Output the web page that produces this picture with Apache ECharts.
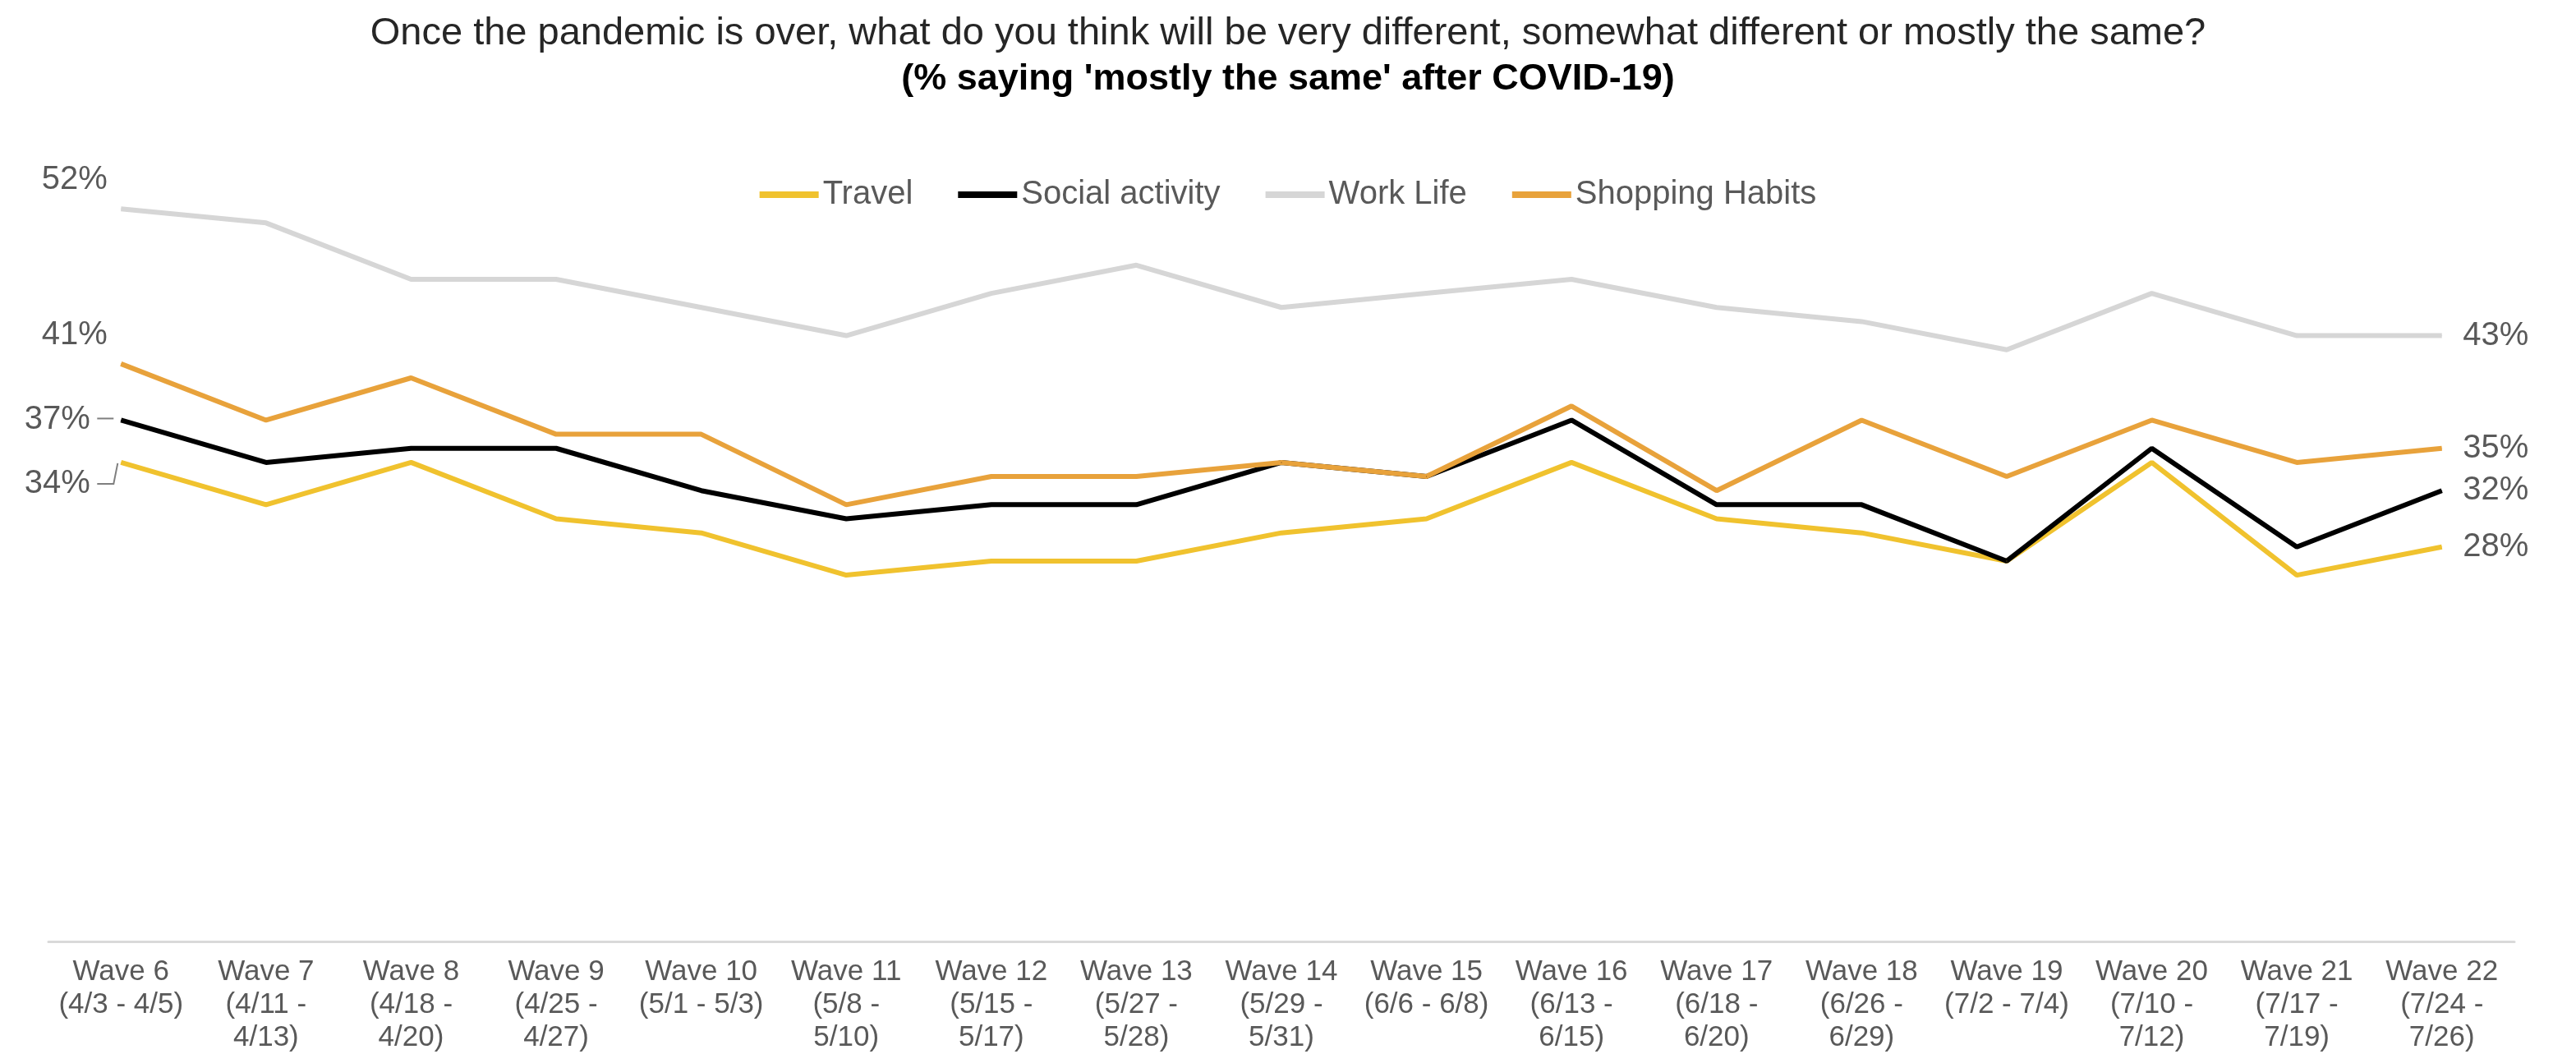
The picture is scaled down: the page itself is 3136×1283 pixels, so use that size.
<!DOCTYPE html>
<html>
<head>
<meta charset="utf-8">
<title>Mostly the same after COVID-19</title>
<script src="https://cdn.jsdelivr.net/npm/echarts@6/dist/echarts.min.js"></script>
<style>
  html, body { margin: 0; padding: 0; background: #ffffff; }
  #chart { width: 3136px; height: 1283px; }
</style>
</head>
<body>
<div id="chart"></div>
<script>
// Survey waves (x-axis tick labels)
const waveLabels = [
  'Wave 6\n(4/3 - 4/5)', 'Wave 7\n(4/11 -\n4/13)', 'Wave 8\n(4/18 -\n4/20)',
  'Wave 9\n(4/25 -\n4/27)', 'Wave 10\n(5/1 - 5/3)', 'Wave 11\n(5/8 -\n5/10)',
  'Wave 12\n(5/15 -\n5/17)', 'Wave 13\n(5/27 -\n5/28)', 'Wave 14\n(5/29 -\n5/31)',
  'Wave 15\n(6/6 - 6/8)', 'Wave 16\n(6/13 -\n6/15)', 'Wave 17\n(6/18 -\n6/20)',
  'Wave 18\n(6/26 -\n6/29)', 'Wave 19\n(7/2 - 7/4)', 'Wave 20\n(7/10 -\n7/12)',
  'Wave 21\n(7/17 -\n7/19)', 'Wave 22\n(7/24 -\n7/26)'
];

// % saying "mostly the same" per wave
const travel   = [34, 31, 34, 30, 29, 26, 27, 27, 29, 30, 34, 30, 29, 27, 34, 26, 28];
const social   = [37, 34, 35, 35, 32, 30, 31, 31, 34, 33, 37, 31, 31, 27, 35, 28, 32];
const workLife = [52, 51, 47, 47, 45, 43, 46, 48, 45, 46, 47, 45, 44, 42, 46, 43, 43];
const shopping = [41, 37, 40, 36, 36, 31, 33, 33, 34, 33, 38, 32, 37, 33, 37, 34, 35];

const FONT = '"Liberation Sans", Arial, Helvetica, sans-serif';
const LABEL_COLOR = '#595959';
const LEADER_COLOR = '#7f7f7f';

// Label for the first point of each line (left side)
function startLabel(offsetY, distance) {
  return {
    label: {
      show: true,
      position: 'left',
      distance: distance,
      offset: [0, offsetY],
      formatter: '{c}%',
      color: LABEL_COLOR,
      fontSize: 40,
      fontFamily: FONT
    }
  };
}

// Label for the last point of each line (right side)
const endLabel = {
  label: {
    show: true,
    position: 'right',
    distance: 25,
    formatter: '{c}%',
    color: LABEL_COLOR,
    fontSize: 40,
    fontFamily: FONT
  }
};

function buildData(values, first) {
  return values.map(function (v, i) {
    if (i === 0) return Object.assign({ value: v }, first);
    if (i === values.length - 1) return Object.assign({ value: v }, endLabel);
    return v;
  });
}

function lineSeries(name, values, color, first) {
  return {
    name: name,
    type: 'line',
    data: buildData(values, first),
    color: color,
    symbol: 'circle',
    symbolSize: 1,
    showSymbol: true,
    showAllSymbol: true,
    lineStyle: { color: color, width: 6 },
    itemStyle: { color: color },
    emphasis: { disabled: true },
    silent: true,
    z: 2
  };
}

const chart = echarts.init(document.getElementById('chart'), null, { renderer: 'canvas' });

chart.setOption({
  animation: false,
  backgroundColor: '#ffffff',
  title: {
    text: 'Once the pandemic is over, what do you think will be very different, somewhat different or mostly the same?',
    subtext: "(% saying 'mostly the same' after COVID-19)",
    left: 'center',
    top: 10,
    itemGap: 4,
    textStyle: { fontFamily: FONT, fontSize: 47, fontWeight: 'normal', color: '#262626', lineHeight: 52 },
    subtextStyle: { fontFamily: FONT, fontSize: 45, fontWeight: 'bold', color: '#000000', lineHeight: 52 }
  },
  legend: {
    top: 212,
    left: 'center',
    icon: 'rect',
    itemWidth: 72,
    itemHeight: 8,
    itemGap: 55,
    textStyle: { fontFamily: FONT, fontSize: 40, color: LABEL_COLOR },
    data: ['Travel', 'Social activity', 'Work Life', 'Shopping Habits']
  },
  grid: { left: 59, right: 75, top: 117, bottom: 132, containLabel: false },
  xAxis: {
    type: 'category',
    data: waveLabels,
    boundaryGap: true,
    axisLine: { show: true, lineStyle: { color: '#d9d9d9', width: 3 } },
    axisTick: { show: false },
    splitLine: { show: false },
    axisLabel: {
      interval: 0,
      margin: 17,
      color: LABEL_COLOR,
      fontFamily: FONT,
      fontSize: 35,
      lineHeight: 40,
      align: 'center'
    }
  },
  yAxis: {
    type: 'value',
    min: 0,
    max: 60,
    interval: 10,
    show: false,
    splitLine: { show: false }
  },
  series: [
    lineSeries('Travel', travel, '#F0C22E', startLabel(26, 37)),
    lineSeries('Social activity', social, '#000000', startLabel(0, 37)),
    lineSeries('Work Life', workLife, '#D6D6D6', startLabel(-35, 16)),
    lineSeries('Shopping Habits', shopping, '#E8A23B', startLabel(-35, 16))
  ]
});

// Leader lines tying the two lower start labels to their first points
const pSocial = chart.convertToPixel({ seriesIndex: 1 }, [0, social[0]]);
const pTravel = chart.convertToPixel({ seriesIndex: 0 }, [0, travel[0]]);
const leaderStyle = { stroke: LEADER_COLOR, lineWidth: 2, fill: null };
chart.setOption({
  graphic: [
    {
      type: 'polyline',
      silent: true,
      shape: { points: [[pSocial[0] - 29, pSocial[1] - 2], [pSocial[0] - 9, pSocial[1] - 2]] },
      style: leaderStyle
    },
    {
      type: 'polyline',
      silent: true,
      shape: { points: [
        [pTravel[0] - 29, pTravel[1] + 26],
        [pTravel[0] - 9, pTravel[1] + 26],
        [pTravel[0] - 4, pTravel[1] + 1]
      ] },
      style: leaderStyle
    }
  ]
});
</script>
</body>
</html>
